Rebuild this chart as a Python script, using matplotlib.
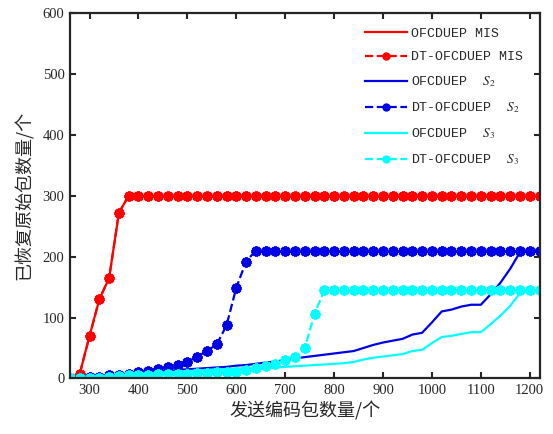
import numpy as np
import matplotlib
matplotlib.use("Agg")
import matplotlib.pyplot as plt

plt.rcParams['font.family'] = ['Liberation Serif', 'Noto Sans CJK SC']
plt.rcParams['mathtext.fontset'] = 'stix'

# sent coded packets, step 20
x = np.arange(260, 1221, 20)

# MIS (both schemes overlap)
mis = [0, 8, 70, 130, 165, 272] + [300] * 43

# S2
ofc_s2 = [0, 1, 2, 3, 4, 5, 6, 8, 9, 11, 12, 14, 15, 16, 17, 18, 19, 21, 22, 24,
          26, 28, 30, 33, 35, 37, 39, 41, 43, 45, 50, 55, 59, 62, 65, 72, 75, 92,
          110, 113, 118, 121, 121, 138, 157, 180, 207, 210, 210]
dt_s2 = [0, 1, 2, 3, 5, 6, 8, 10, 13, 16, 19, 22, 27, 36, 45, 56, 87, 149, 192] + [210] * 30

# S3
ofc_s3 = [0, 1, 2, 3, 4, 5, 6, 7, 8, 9, 10, 11, 12, 13, 14, 15, 15, 16, 17, 17,
          18, 18, 19, 20, 21, 22, 23, 24, 25, 27, 31, 34, 36, 38, 40, 45, 47, 58,
          68, 70, 73, 76, 76, 89, 103, 119, 140, 145, 145]
dt_s3 = [0, 0, 1, 1, 2, 4, 5, 6, 6, 7, 7, 8, 8, 9, 9, 10, 10, 11, 14, 17, 20, 23,
         30, 35, 50, 106] + [145] * 23

star = (8, 1, 0)
mk = dict(marker=star, ms=7, mew=2.2)
fig = plt.figure(figsize=(5.53, 4.34), dpi=100)
ax = fig.add_axes([0.1266, 0.128, 0.849, 0.842])

ax.plot(x, mis, '-', color='red', lw=1.6, label='OFCDUEP MIS')
ax.plot(x, mis, '--', color='red', lw=1.6, label='DT-OFCDUEP MIS', **mk)
ax.plot(x, ofc_s2, '-', color='#0000e6', lw=1.6, label='OFCDUEP  $S_2$')
ax.plot(x, dt_s2, '--', color='#0000e6', lw=1.6, label='DT-OFCDUEP  $S_2$', **mk)
ax.plot(x, ofc_s3, '-', color='cyan', lw=1.6, label='OFCDUEP  $S_3$')
ax.plot(x, dt_s3, '--', color='cyan', lw=1.6, label='DT-OFCDUEP  $S_3$', **mk)

ax.set_xlim(260, 1220)
ax.set_ylim(0, 600)
ax.set_xticks(range(300, 1201, 100))
ax.set_yticks(range(0, 601, 100))
ax.tick_params(direction='in', top=True, right=True, length=4.5, width=1.5,
               labelsize=10.5, colors='#262626', labelcolor='#262626', pad=4)
for s in ax.spines.values():
    s.set_linewidth(1.6)
    s.set_color('#262626')

ax.set_xlabel('发送编码包数量/个', fontsize=13, family=['Noto Sans CJK SC'], color='#262626', labelpad=3)
ax.set_ylabel('已恢复原始包数量/个', fontsize=13, family=['Noto Sans CJK SC'], color='#262626', labelpad=6)

leg = ax.legend(loc='upper right', bbox_to_anchor=(0.985, 0.985), frameon=False,
                prop={'family': 'Liberation Mono', 'size': 9.5}, handlelength=3.2,
                handletextpad=0.3, labelspacing=0.85, borderaxespad=0.3)
for t in leg.get_texts():
    t.set_color('#262626')
for h in leg.legend_handles:
    if h.get_marker() not in (None, 'None', ''):
        h.set_marker('o')
        h.set_markersize(5)
        h.set_markeredgewidth(1)

fig.savefig('out.png', dpi=100)
